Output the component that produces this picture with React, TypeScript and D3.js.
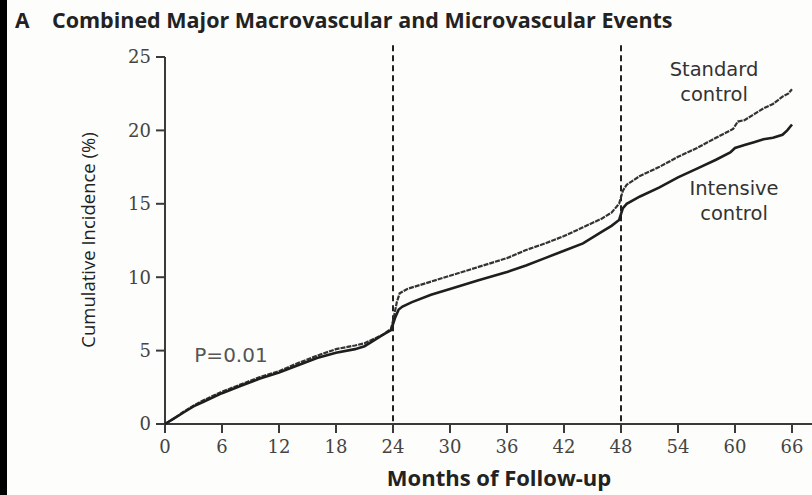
import React from "react";
import * as d3 from "d3";

const xTicks = [0, 6, 12, 18, 24, 30, 36, 42, 48, 54, 60, 66];
const yTicks = [0, 5, 10, 15, 20, 25];

const intensiveMonths = [0, 1, 2, 3, 4, 6, 8, 10, 12, 14, 16, 18, 20, 21, 22, 23, 23.8, 24.2, 24.6, 25, 26, 28, 30, 33, 36, 38, 40, 42, 44, 46, 47, 47.8, 48.2, 48.6, 50, 52, 54, 56, 58, 59.5, 60, 60.5, 61, 62, 63, 64, 65, 65.5, 66];
const intensiveValues = [0, 0.4, 0.8, 1.2, 1.5, 2.1, 2.6, 3.1, 3.5, 4.0, 4.5, 4.85, 5.1, 5.3, 5.7, 6.1, 6.4, 7.2, 7.8, 8.0, 8.3, 8.8, 9.2, 9.8, 10.35, 10.8, 11.3, 11.8, 12.3, 13.1, 13.5, 13.9, 14.7, 15.0, 15.5, 16.1, 16.8, 17.4, 18.0, 18.5, 18.8, 18.9, 19.0, 19.2, 19.4, 19.5, 19.7, 20.0, 20.4];

const standardMonths = [0, 1, 2, 3, 4, 6, 8, 10, 12, 14, 16, 18, 20, 21, 22, 23, 23.8, 24.1, 24.4, 24.7, 25.5, 28, 30, 33, 36, 38, 40, 42, 44, 46, 47, 47.8, 48.2, 48.6, 50, 52, 54, 56, 58, 59.8, 60.3, 61, 62, 63, 64, 65, 65.6, 66];
const standardValues = [0, 0.4, 0.85, 1.25, 1.6, 2.2, 2.7, 3.2, 3.6, 4.15, 4.65, 5.1, 5.35, 5.5, 5.8, 6.1, 6.5, 7.3, 8.3, 8.9, 9.2, 9.7, 10.1, 10.7, 11.3, 11.85, 12.3, 12.8, 13.4, 14.0, 14.4, 15.0, 15.9, 16.3, 16.9, 17.5, 18.2, 18.8, 19.5, 20.1, 20.6, 20.7, 21.1, 21.5, 21.8, 22.3, 22.5, 22.8];

const dividers = [24, 48];

export default function App() {
  const W = 812, H = 495;
  const x = d3.scaleLinear().domain([0, 66]).range([165, 792]);
  const y = d3.scaleLinear().domain([0, 25]).range([424, 57]);
  const line = d3.line<[number, number]>().x(d => x(d[0])).y(d => y(d[1]));
  const intensive = intensiveMonths.map((m, i) => [m, intensiveValues[i]] as [number, number]);
  const standard = standardMonths.map((m, i) => [m, standardValues[i]] as [number, number]);
  const axisColor = "#3a3a3a";
  const font = "'Open Sans', 'Noto Sans', sans-serif";
  const labelFont = "'DejaVu Sans', sans-serif";
  const tickFont = "'DejaVu Serif', serif";
  return (
    <svg width={W} height={H} style={{ position: "absolute", left: 0, top: 0, background: "#fdfdfb" }}>
      <rect x={0} y={0} width={W} height={H} fill="#fdfdfb" />
      <rect x={0} y={0} width={7} height={H} fill="#000" />
      <text x={15} y={28} fontFamily={font} fontWeight={700} fontSize={21} fill="#222">A</text>
      <text x={52} y={28} fontFamily={font} fontWeight={700} fontSize={21.5} fill="#222">Combined Major Macrovascular and Microvascular Events</text>

      {dividers.map(d => (
        <line key={d} x1={x(d)} x2={x(d)} y1={y(25.8)} y2={y(0)} stroke="#222" strokeWidth={2} strokeDasharray="6 4" />
      ))}

      <line x1={x(0)} x2={x(0)} y1={y(25)} y2={y(0)} stroke={axisColor} strokeWidth={2} />
      <line x1={x(0)} x2={812} y1={y(0)} y2={y(0)} stroke={axisColor} strokeWidth={2} />
      {yTicks.map(t => (
        <g key={t}>
          <line x1={x(0) - 9} x2={x(0)} y1={y(t)} y2={y(t)} stroke={axisColor} strokeWidth={2} />
          <text x={x(0) - 14} y={y(t)} dy="0.35em" textAnchor="end" fontFamily={tickFont} fontSize={18} fill="#444">{t}</text>
        </g>
      ))}
      {xTicks.map(t => (
        <g key={t}>
          <line x1={x(t)} x2={x(t)} y1={y(0)} y2={y(0) + 9} stroke={axisColor} strokeWidth={2} />
          <text x={x(t)} y={447} dy="0.35em" textAnchor="middle" fontFamily={tickFont} fontSize={18} fill="#444">{t}</text>
        </g>
      ))}

      <text x={499} y={486} textAnchor="middle" fontFamily={font} fontWeight={700} fontSize={22} fill="#222">Months of Follow-up</text>
      <text transform={`translate(95,240) rotate(-90)`} textAnchor="middle" fontFamily={font} fontSize={18.5} fill="#222">Cumulative Incidence (%)</text>

      <path d={line(standard) || ""} fill="none" stroke="#333" strokeWidth={2.2} strokeDasharray="5 1" />
      <path d={line(intensive) || ""} fill="none" stroke="#1e1e1e" strokeWidth={2.6} />

      <text x={231} y={355} dy="0.35em" textAnchor="middle" fontFamily={labelFont} fontSize={20} fill="#555">P=0.01</text>

      <text x={714} y={69} dy="0.35em" textAnchor="middle" fontFamily={labelFont} fontSize={19.5} fill="#333">Standard</text>
      <text x={714} y={94} dy="0.35em" textAnchor="middle" fontFamily={labelFont} fontSize={19.5} fill="#333">control</text>
      <text x={734} y={188} dy="0.35em" textAnchor="middle" fontFamily={labelFont} fontSize={19.5} fill="#333">Intensive</text>
      <text x={734} y={213} dy="0.35em" textAnchor="middle" fontFamily={labelFont} fontSize={19.5} fill="#333">control</text>
    </svg>
  );
}
